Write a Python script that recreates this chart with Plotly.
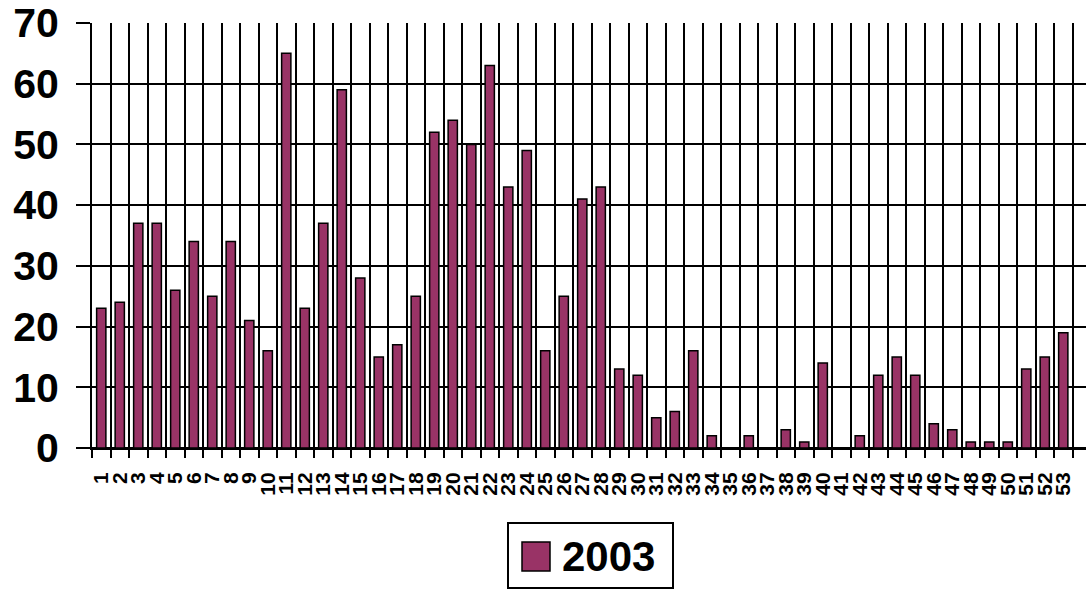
import plotly.graph_objects as go

# Weekly counts for 2003 (weeks 1..53)
weeks = [str(i) for i in range(1, 54)]
counts_2003 = [
    23, 24, 37, 37, 26, 34, 25, 34, 21, 16,
    65, 23, 37, 59, 28, 15, 17, 25, 52, 54,
    50, 63, 43, 49, 16, 25, 41, 43, 13, 12,
    5, 6, 16, 2, 0, 2, 0, 3, 1, 14,
    0, 2, 12, 15, 12, 4, 3, 1, 1, 1,
    13, 15, 19,
]
series_name = "2003"
y_ticks = [0, 10, 20, 30, 40, 50, 60, 70]

BAR_COLOR = "#993366"
FONT = "Arial, Liberation Sans, sans-serif"

W, H = 1086, 590
ML, MR, MT, MB = 92, 0, 23, 142
plot_w = W - ML - MR
plot_h = H - MT - MB


def px_x(x):
    return (x - ML) / plot_w


def px_y(y):
    return (H - MB - y) / plot_h


fig = go.Figure()
fig.add_trace(go.Bar(
    x=weeks,
    y=counts_2003,
    name=series_name,
    marker=dict(color=BAR_COLOR, line=dict(color="black", width=1.5)),
    showlegend=False,
))

# Boxed legend drawn below the chart
legend_shapes = [
    dict(type="rect", xref="paper", yref="paper",
         x0=px_x(508), x1=px_x(673), y0=px_y(588), y1=px_y(523),
         line=dict(color="black", width=2), fillcolor="white"),
    dict(type="rect", xref="paper", yref="paper",
         x0=px_x(522), x1=px_x(550), y0=px_y(571), y1=px_y(542),
         line=dict(color="black", width=1.5), fillcolor=BAR_COLOR),
]

fig.update_layout(
    width=W, height=H,
    margin=dict(l=ML, r=MR, t=MT, b=MB, pad=0),
    paper_bgcolor="white",
    plot_bgcolor="white",
    bargap=0.5,
    font=dict(family=FONT, color="black"),
    shapes=legend_shapes,
    annotations=[dict(
        xref="paper", yref="paper",
        x=px_x(608), y=px_y(556),
        text="<b>" + series_name + "</b>",
        showarrow=False,
        font=dict(family=FONT, size=42, color="black"),
        xanchor="center", yanchor="middle",
    )],
)

fig.update_xaxes(
    type="category",
    range=[-0.5, -0.5 + plot_w / 18.5],
    tickmode="linear", tick0=0, dtick=1,
    tickson="boundaries",
    showgrid=True, gridcolor="black", gridwidth=2,
    ticks="outside", ticklen=8, tickwidth=2, tickcolor="black",
    tickangle=-90,
    tickfont=dict(family=FONT, size=21, color="black", weight="bold"),
    ticklabelstandoff=14,
    showline=True, linecolor="black", linewidth=2,
    zeroline=False,
)

fig.update_yaxes(
    range=[0, 70],
    tickvals=y_ticks,
    showgrid=True, gridcolor="black", gridwidth=2,
    ticks="outside", ticklen=14, tickwidth=2, tickcolor="black",
    tickfont=dict(family=FONT, size=41, color="black", weight="bold"),
    ticklabelstandoff=9,
    showline=True, linecolor="black", linewidth=2,
    zeroline=True, zerolinecolor="black", zerolinewidth=2,
)

fig.write_html("out.html")
